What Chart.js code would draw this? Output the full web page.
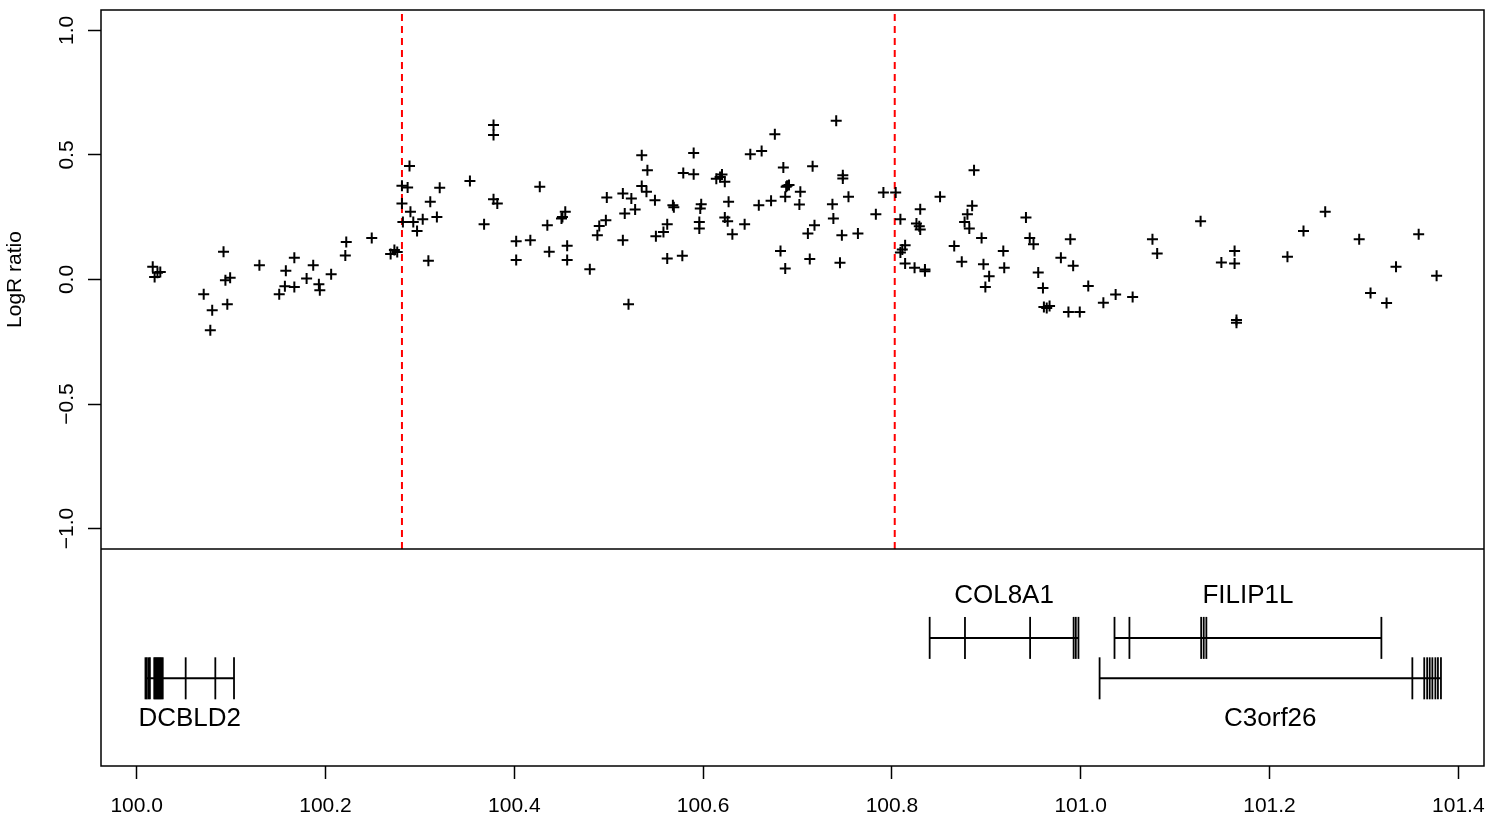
<!DOCTYPE html>
<html>
<head>
<meta charset="utf-8">
<title>LogR ratio</title>
<script src="https://cdn.jsdelivr.net/npm/chart.js@4.4.1/dist/chart.umd.min.js"></script>
<style>
  html, body { margin: 0; padding: 0; background: #fff; }
  #wrap { width: 1487px; height: 821px; }
</style>
</head>
<body>
<div id="wrap"><canvas id="cnChart"></canvas></div>
<script>
// probe positions (Mb) and their log ratios
const positionMb = [
  100.017, 100.019, 100.022, 100.025, 100.071, 100.080, 100.078, 100.092, 100.094, 100.099,
  100.096, 100.130, 100.151, 100.158, 100.157, 100.167, 100.167, 100.180, 100.187, 100.193,
  100.194, 100.206, 100.221, 100.222, 100.249, 100.269, 100.273, 100.276, 100.281, 100.287,
  100.281, 100.282, 100.289, 100.290, 100.293, 100.297, 100.303, 100.309, 100.311, 100.318,
  100.321, 100.353, 100.368, 100.378, 100.378, 100.378, 100.382,
  100.427, 100.402, 100.417, 100.402, 100.435, 100.437, 100.451, 100.454, 100.450, 100.456,
  100.456, 100.480, 100.498, 100.497, 100.490, 100.488, 100.515, 100.524, 100.517, 100.528,
  100.515, 100.521, 100.535, 100.541, 100.535, 100.540, 100.549, 100.550, 100.558, 100.562,
  100.562, 100.568, 100.569, 100.578, 100.579, 100.590, 100.590, 100.598, 100.597, 100.596,
  100.596, 100.614, 100.618, 100.620, 100.623, 100.627, 100.623, 100.626, 100.631, 100.644,
  100.650, 100.662, 100.659, 100.672, 100.676, 100.685, 100.689, 100.688, 100.691, 100.687,
  100.703, 100.702, 100.682, 100.687, 100.716, 100.718, 100.711, 100.713, 100.741, 100.737,
  100.738, 100.747, 100.745, 100.748, 100.748, 100.754, 100.764, 100.783,
  100.791, 100.804, 100.809, 100.830, 100.826, 100.829, 100.830, 100.814, 100.811, 100.809,
  100.814, 100.824, 100.835, 100.835, 100.851, 100.866, 100.874, 100.887, 100.885, 100.880,
  100.877, 100.882, 100.895, 100.897, 100.903, 100.899, 100.918, 100.919, 100.942, 100.946,
  100.950, 100.955, 100.960, 100.961, 100.964, 100.967, 100.979, 100.992, 100.989, 100.987,
  100.999, 101.008, 101.024, 101.037, 101.055, 101.076, 101.081, 101.127, 101.149, 101.163,
  101.163, 101.165, 101.165, 101.219, 101.236, 101.259, 101.295, 101.307, 101.324, 101.334,
  101.358, 101.377
];
const logRatio = [
  0.051, 0.010, 0.027, 0.030, -0.059, -0.123, -0.204, 0.111, -0.003, 0.007,
  -0.099, 0.057, -0.059, 0.035, -0.027, 0.087, -0.030, 0.004, 0.057, -0.019,
  -0.043, 0.021, 0.096, 0.151, 0.167, 0.102, 0.118, 0.110, 0.376, 0.369,
  0.305, 0.231, 0.456, 0.272, 0.231, 0.195, 0.242, 0.075, 0.312, 0.251,
  0.368, 0.395, 0.222, 0.620, 0.580, 0.322, 0.305,
  0.372, 0.154, 0.158, 0.078, 0.218, 0.111, 0.251, 0.272, 0.245, 0.135,
  0.078, 0.041, 0.329, 0.238, 0.215, 0.178, 0.345, 0.325, 0.265, 0.281,
  0.158, -0.099, 0.499, 0.439, 0.375, 0.352, 0.318, 0.174, 0.191, 0.222,
  0.084, 0.298, 0.290, 0.095, 0.428, 0.423, 0.508, 0.302, 0.285, 0.231,
  0.205, 0.404, 0.412, 0.422, 0.392, 0.312, 0.249, 0.234, 0.182, 0.222,
  0.503, 0.516, 0.298, 0.316, 0.583, 0.450, 0.376, 0.372, 0.379, 0.332,
  0.352, 0.301, 0.114, 0.044, 0.455, 0.218, 0.185, 0.082, 0.637, 0.302,
  0.245, 0.178, 0.067, 0.419, 0.406, 0.332, 0.185, 0.262,
  0.349, 0.349, 0.242, 0.282, 0.225, 0.214, 0.201, 0.138, 0.120, 0.108,
  0.064, 0.047, 0.040, 0.033, 0.332, 0.134, 0.071, 0.439, 0.296, 0.262,
  0.231, 0.205, 0.167, 0.061, 0.013, -0.030, 0.114, 0.047, 0.249, 0.167,
  0.142, 0.028, -0.034, -0.110, -0.114, -0.106, 0.087, 0.055, 0.162, -0.130,
  -0.130, -0.026, -0.093, -0.060, -0.070, 0.162, 0.104, 0.234, 0.068, 0.114,
  0.064, -0.163, -0.174, 0.091, 0.195, 0.272, 0.162, -0.054, -0.094, 0.051,
  0.182, 0.015
];

// segment breakpoints (Mb)
const breakpoints = [100.281, 100.803];

// axis ticks
const xTicks = [100.0, 100.2, 100.4, 100.6, 100.8, 101.0, 101.2, 101.4];
const yTicks = [-1.0, -0.5, 0.0, 0.5, 1.0];

// genes in the lower panel: row 1 labels above, row 2 labels below
const geneNames = ['DCBLD2', 'COL8A1', 'FILIP1L', 'C3orf26'];
const geneRow = [2, 1, 1, 2];
const geneExons = [
  [100.0093, 100.0106, 100.0124, 100.0140, 100.0186, 100.0197, 100.0208, 100.0219,
   100.0230, 100.0241, 100.0252, 100.0263, 100.0276, 100.0519, 100.0833, 100.1031],
  [100.8400, 100.8774, 100.9464, 100.9925, 100.9948, 100.9976],
  [101.0358, 101.0516, 101.1276, 101.1303, 101.1331, 101.3185],
  [101.0200, 101.3513, 101.3639, 101.3670, 101.3697, 101.3725, 101.3757, 101.3784, 101.3816]
];

const FONT = '"Liberation Sans", Arial, Helvetica, sans-serif';
const xMin = 99.9622, xMax = 101.4272;
const yMin = -1.082, yMax = 1.082;

function fmt(v) {
  const s = Math.abs(v).toFixed(1);
  return v < -1e-9 ? '\u2212' + s : s;
}

// keep label overhang from shrinking the plot box
function noPad(s) {
  s.paddingTop = 0;
  s.paddingBottom = 0;
  s.paddingLeft = 0;
  s.paddingRight = 0;
}

const datasets = [];

datasets.push({
  label: 'probes',
  data: positionMb.map((x, i) => ({ x: x, y: logRatio[i] })),
  yAxisID: 'y',
  pointStyle: 'cross',
  pointRadius: 5.5,
  pointBorderWidth: 2,
  borderColor: '#000',
  backgroundColor: '#000'
});

breakpoints.forEach(b => {
  datasets.push({
    label: 'breakpoint',
    data: [{ x: b, y: yMin }, { x: b, y: yMax }],
    yAxisID: 'y',
    showLine: true,
    borderColor: '#ff0000',
    borderWidth: 2,
    borderDash: [7, 5],
    pointRadius: 0
  });
});

geneNames.forEach((name, i) => {
  const ex = geneExons[i];
  const row = geneRow[i];
  datasets.push({
    label: name,
    data: [{ x: Math.min(...ex), y: row }, { x: Math.max(...ex), y: row }],
    yAxisID: 'rows',
    showLine: true,
    borderColor: '#000',
    borderWidth: 2,
    pointRadius: 0
  });
  datasets.push({
    label: name + ' exons',
    data: ex.map(e => ({ x: e, y: row })),
    yAxisID: 'rows',
    pointStyle: 'line',
    rotation: 90,
    pointRadius: 21,
    pointBorderWidth: 1.8,
    borderColor: '#000'
  });
});

// box around both panels, divider, gene names
const framePlugin = {
  id: 'frame',
  afterDraw(chart) {
    const { ctx, chartArea, scales } = chart;
    ctx.save();
    ctx.strokeStyle = '#000';
    ctx.lineWidth = 1.5;
    ctx.strokeRect(chartArea.left, chartArea.top, chartArea.right - chartArea.left, chartArea.bottom - chartArea.top);
    ctx.beginPath();
    ctx.moveTo(chartArea.left, scales.y.bottom);
    ctx.lineTo(chartArea.right, scales.y.bottom);
    ctx.stroke();

    ctx.fillStyle = '#000';
    ctx.font = '26px ' + FONT;
    ctx.textAlign = 'center';
    ctx.textBaseline = 'middle';
    geneNames.forEach((name, i) => {
      const ex = geneExons[i];
      const mid = (Math.min(...ex) + Math.max(...ex)) / 2;
      const px = scales.x.getPixelForValue(mid);
      const py = scales.rows.getPixelForValue(geneRow[i]);
      ctx.fillText(name, px, geneRow[i] === 1 ? py - 42 : py + 41);
    });
    ctx.restore();
  }
};

new Chart(document.getElementById('cnChart'), {
  type: 'scatter',
  data: { datasets: datasets },
  plugins: [framePlugin],
  options: {
    responsive: true,
    maintainAspectRatio: false,
    animation: false,
    events: [],
    layout: { autoPadding: false, padding: { top: 10, right: 3, left: 0, bottom: 0 } },
    plugins: {
      legend: { display: false },
      tooltip: { enabled: false }
    },
    scales: {
      x: {
        type: 'linear',
        position: 'bottom',
        min: xMin,
        max: xMax,
        afterBuildTicks: s => { s.ticks = xTicks.map(v => ({ value: v })); },
        afterFit: s => { s.height = 55; noPad(s); },
        grid: { drawOnChartArea: false, drawTicks: true, tickLength: 13, tickWidth: 1.5, tickColor: '#000' },
        border: { display: false },
        ticks: {
          color: '#000',
          font: { size: 21, family: FONT },
          padding: 15,
          maxRotation: 0,
          autoSkip: false,
          callback: v => fmt(v)
        }
      },
      y: {
        type: 'linear',
        position: 'left',
        stack: 'panels',
        stackWeight: 539,
        weight: 1,
        min: yMin,
        max: yMax,
        afterBuildTicks: s => { s.ticks = yTicks.map(v => ({ value: v })); },
        afterFit: s => { s.width = 101; noPad(s); },
        grid: { drawOnChartArea: false, drawTicks: true, tickLength: 13, tickWidth: 1.5, tickColor: '#000' },
        border: { display: false },
        ticks: {
          color: '#000',
          font: { size: 21, family: FONT },
          padding: 0,
          minRotation: 90,
          maxRotation: 90,
          crossAlign: 'center',
          callback: v => fmt(v)
        },
        title: {
          display: true,
          text: 'LogR ratio',
          color: '#000',
          font: { size: 21, family: FONT },
          padding: { top: 3, bottom: 0 }
        }
      },
      rows: {
        type: 'linear',
        position: 'left',
        stack: 'panels',
        stackWeight: 217,
        weight: 0,
        min: -1.2,
        max: 4.17,
        reverse: true,
        afterFit: s => { s.width = 101; noPad(s); },
        grid: { display: false },
        border: { display: false },
        ticks: { display: false }
      }
    }
  }
});
</script>
</body>
</html>
